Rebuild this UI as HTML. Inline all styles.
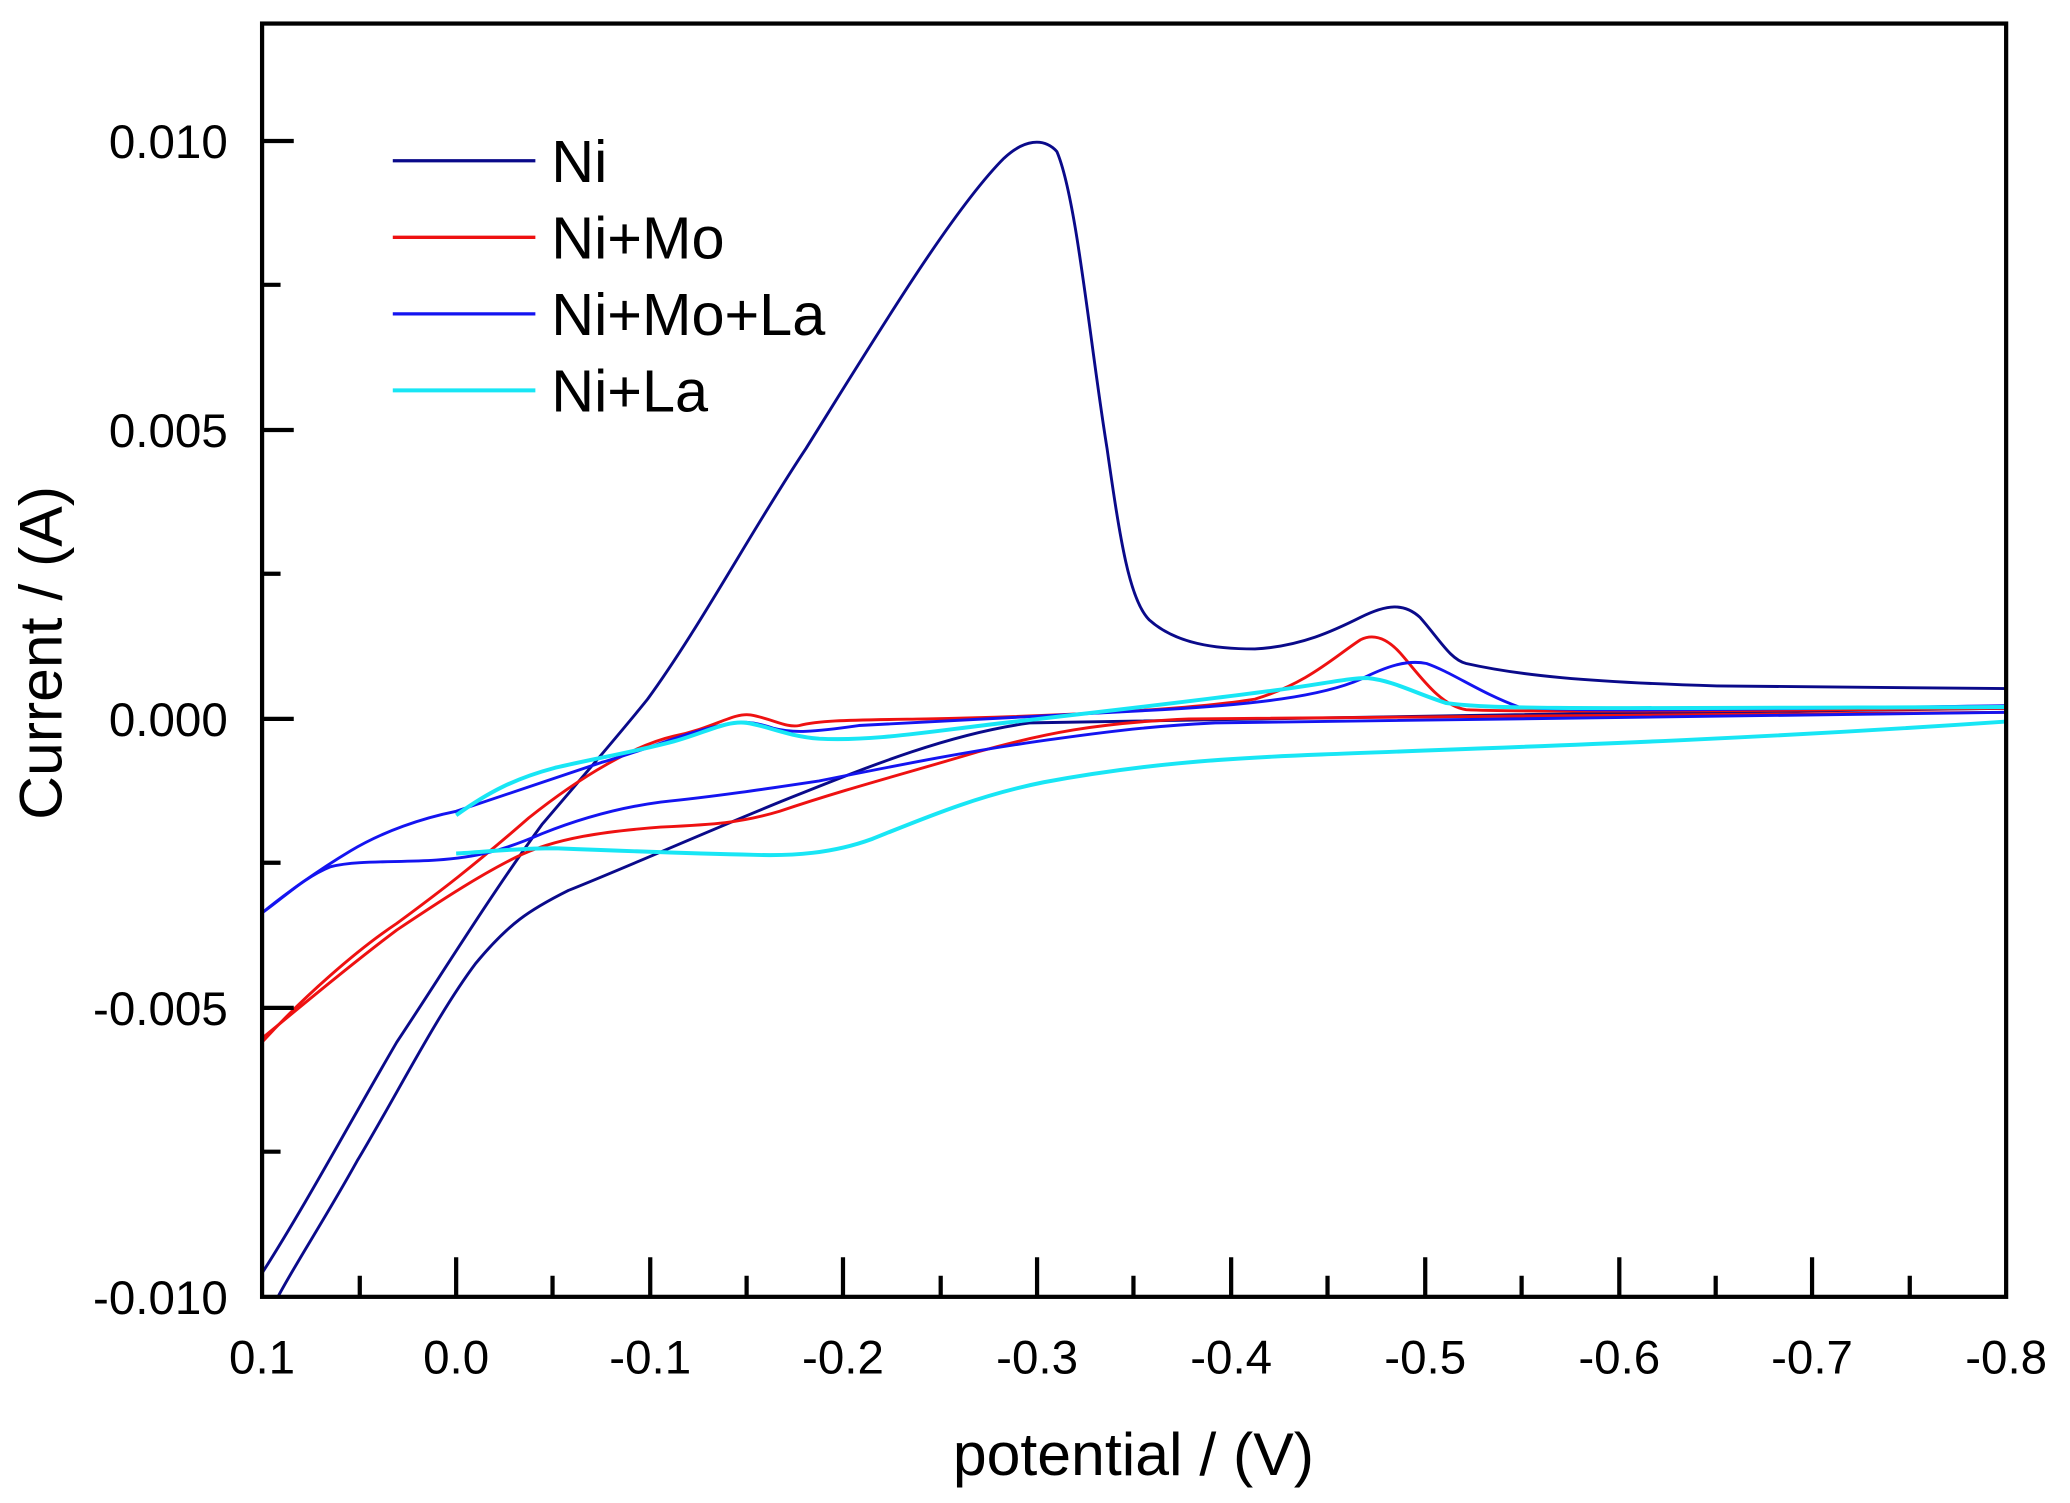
<!DOCTYPE html>
<html><head><meta charset="utf-8"><style>html,body{margin:0;padding:0;background:#fff}svg{display:block}</style></head>
<body>
<svg width="2070" height="1503" viewBox="0 0 1556 1130" preserveAspectRatio="none" xmlns="http://www.w3.org/2000/svg" font-family="Liberation Sans, Arial, sans-serif">
<rect width="1556" height="1130" fill="#fff"/>
<g transform="matrix(0.99243,0,0,0.99201,0.5,-0.145)">
<g fill="none" stroke-width="2.2" stroke-linejoin="round">
<path stroke="#0a0a8a" d="M198,965 C230,915 265,850 300,790 C330,745 370,680 410,625 C450,578 470,555 490,530 C530,475 570,400 610,340 C660,260 720,160 760,120 C775,106 790,104 800,115 C815,150 825,260 838,340 C848,410 855,455 870,470 C890,488 920,492 950,492 C985,490 1010,478 1030,468 C1050,458 1063,457 1075,468 C1090,485 1098,500 1110,503 C1150,512 1200,517 1300,520 L1519,522"/>
<path stroke="#0a0a8a" d="M1519,537 C1300,539 1000,544 780,548 C720,556 660,580 600,604 C540,628 480,655 430,675 C400,690 385,700 360,730 C330,770 300,830 270,880 C245,925 225,955 210,983"/>
<path stroke="#ee1111" d="M198,790 C230,755 270,720 300,700 C330,678 360,655 400,620 C440,588 480,565 510,558 C540,552 555,540 568,542 C585,545 595,552 605,550 C620,546 640,546 700,545 C800,543 900,538 950,530 C990,518 1010,498 1030,485 C1040,480 1050,484 1060,495 C1075,512 1090,535 1110,538 C1150,540 1300,539 1519,537"/>
<path stroke="#ee1111" d="M1519,540 C1300,542 1000,543 900,545 C830,548 790,556 740,570 C690,585 640,598 590,615 C560,624 540,625 500,627 C460,630 420,635 390,650 C360,665 330,685 300,705 C260,735 225,765 198,787"/>
<path stroke="#1414f0" d="M198,692 C215,680 230,665 250,657 C270,652 300,654 330,652 C360,650 380,645 410,632 C440,620 470,612 500,608 C540,604 580,598 620,592 C680,580 740,568 800,560 C850,553 880,550 920,548 C1100,546 1300,543 1519,540"/>
<path stroke="#1414f0" d="M198,692 C215,678 240,660 265,645 C290,630 320,620 345,615 C380,603 420,590 455,578 C490,568 520,555 545,550 C560,546 570,547 585,552 C600,556 615,555 650,550 C720,546 800,542 880,538 C950,534 1000,528 1030,515 C1050,505 1065,500 1080,503 C1100,510 1120,525 1150,536 C1200,540 1300,538 1519,535"/>
<path stroke="#18e6f5" stroke-width="3" d="M345,618 C370,600 390,590 420,582 C450,575 480,570 510,562 C535,555 550,546 565,548 C580,550 595,558 620,560 C660,562 700,555 760,548 C830,540 900,532 960,524 C1000,519 1020,514 1035,514 C1055,516 1070,525 1095,533 C1130,538 1200,537 1519,536"/>
<path stroke="#18e6f5" stroke-width="3" d="M1519,547 C1300,562 1150,566 1000,572 C920,575 860,580 790,593 C740,603 700,620 660,636 C630,647 600,649 570,648 C520,647 470,645 420,643 C390,643 365,646 345,647"/>
</g>
<rect x="198" y="18" width="1321" height="965" fill="none" stroke="#000" stroke-width="3.2"/>
<g stroke="#000" stroke-width="3.2">
<path d="M198,107h24M198,326h24M198,545h24M198,764h24M198,216h14M198,435h14M198,654h14M198,873h14"/>
<path d="M345,983v-30M492,983v-30M638,983v-30M785,983v-30M932,983v-30M1079,983v-30M1226,983v-30M1372,983v-30"/>
<path d="M272,983v-16M418,983v-16M565,983v-16M712,983v-16M858,983v-16M1005,983v-16M1152,983v-16M1299,983v-16M1446,983v-16"/>
</g>
<g font-size="36" fill="#000">
<g text-anchor="end">
<text x="172" y="120">0.010</text>
<text x="172" y="339">0.005</text>
<text x="172" y="558">0.000</text>
<text x="172" y="777">-0.005</text>
<text x="172" y="996">-0.010</text>
</g>
<g text-anchor="middle">
<text x="198" y="1041">0.1</text>
<text x="345" y="1041">0.0</text>
<text x="492" y="1041">-0.1</text>
<text x="638" y="1041">-0.2</text>
<text x="785" y="1041">-0.3</text>
<text x="932" y="1041">-0.4</text>
<text x="1079" y="1041">-0.5</text>
<text x="1226" y="1041">-0.6</text>
<text x="1372" y="1041">-0.7</text>
<text x="1519" y="1041">-0.8</text>
</g>
</g>
<text x="858" y="1118" font-size="46" text-anchor="middle">potential / (V)</text>
<text transform="translate(46,495) rotate(-90)" font-size="46" text-anchor="middle">Current / (A)</text>
<g stroke-width="2.5">
<line x1="297" y1="122" x2="405" y2="122" stroke="#0a0a8a"/>
<line x1="297" y1="180" x2="405" y2="180" stroke="#ee1111"/>
<line x1="297" y1="238" x2="405" y2="238" stroke="#1414f0"/>
<line x1="297" y1="296" x2="405" y2="296" stroke="#18e6f5" stroke-width="3"/>
</g>
<g font-size="45" fill="#000">
<text x="417" y="138">Ni</text>
<text x="417" y="196">Ni+Mo</text>
<text x="417" y="254">Ni+Mo+La</text>
<text x="417" y="312">Ni+La</text>
</g>
</g>
</svg>
</body></html>
